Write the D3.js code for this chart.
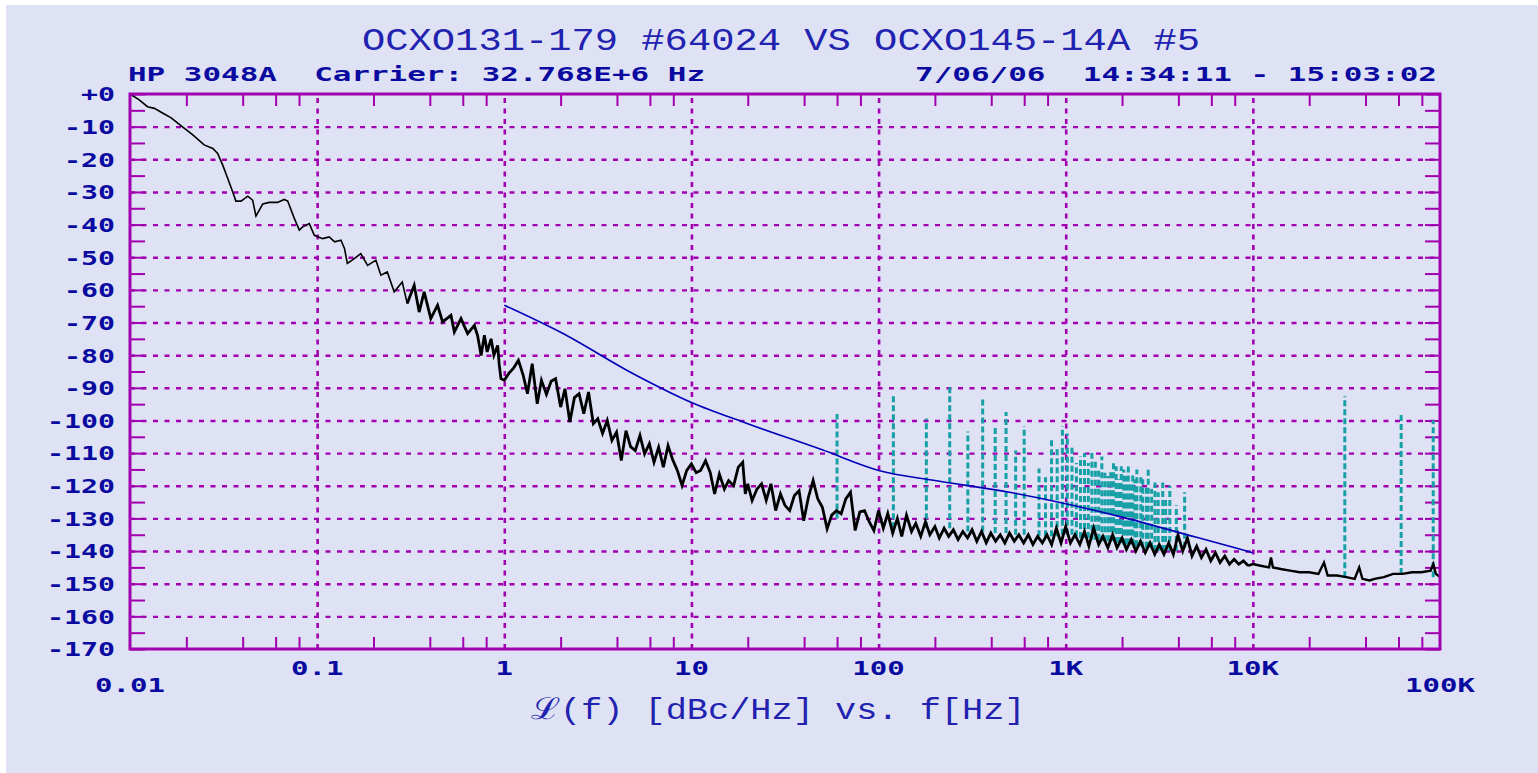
<!DOCTYPE html>
<html>
<head>
<meta charset="utf-8">
<script src="https://cdn.jsdelivr.net/npm/d3@7"></script>
<style>
  html, body { margin: 0; padding: 0; background: #ffffff; }
  svg { display: block; }
</style>
</head>
<body>
<div id="chart"></div>
<script>
// Phase noise plot, HP 3048A style

// Chart text
const titleText = 'OCXO131-179 #64024 VS OCXO145-14A #5';
const infoLeft = 'HP 3048A  Carrier: 32.768E+6 Hz';
const infoRight = '7/06/06  14:34:11 - 15:03:02';
const axisTitle = 'ℒ(f) [dBc/Hz] vs. f[Hz]';

// Axes
const decadeTicks = [0.01, 0.1, 1, 10, 100, 1000, 10000, 100000];
const decadeLabels = ['0.01', '0.1', '1', '10', '100', '1K', '10K', '100K'];
const levelTicks = d3.range(0, -171, -5);

// Measured trace (frequency Hz, dBc/Hz)
const blackTrace = [
  [0.01, 0], [0.0112, -1.8], [0.0124, -3.9], [0.0135, -4.4], [0.0150, -5.9], [0.0166, -7.3], [0.0187, -9.7],
  [0.0215, -12.4], [0.0249, -15.6], [0.0277, -16.7], [0.0294, -18.2], [0.0313, -21.8], [0.0333, -25.9],
  [0.0354, -30.0], [0.0368, -32.8], [0.0392, -32.8], [0.0426, -31.3], [0.0452, -32.5], [0.0471, -37.4],
  [0.0512, -33.7], [0.0555, -33.2], [0.0614, -33.2], [0.0667, -32.3], [0.0696, -32.8], [0.0755, -38.1],
  [0.0803, -41.7], [0.0837, -40.7], [0.0908, -39.7], [0.0966, -43.3], [0.107, -44.3], [0.116, -43.8],
  [0.124, -45.3], [0.134, -44.8], [0.140, -47.3], [0.145, -51.9], [0.158, -50.4], [0.171, -48.9],
  [0.186, -52.5], [0.206, -50.9], [0.219, -55.5], [0.237, -54.5], [0.258, -60.6], [0.285, -57.6],
  [0.303, -64.2], [0.330, -58.6], [0.351, -66.8], [0.373, -60.6], [0.405, -68.8], [0.440, -64.7],
  [0.468, -69.8], [0.519, -67.8], [0.541, -72.9], [0.587, -68.8], [0.637, -73.4], [0.692, -70.9],
  [0.720, -74.0], [0.752, -80.1], [0.783, -73.9], [0.810, -79.0], [0.850, -75.0], [0.880, -80.0],
  [0.922, -77.0], [0.940, -83.0], [0.960, -87.2],
  [1.00, -87.7], [1.06, -85.5], [1.12, -84.0], [1.19, -81.6], [1.26, -86.0], [1.33, -91.8], [1.41, -82.6],
  [1.50, -94.9], [1.58, -87.7], [1.68, -92.0], [1.78, -88.0], [1.88, -87.2], [2.00, -95.9], [2.11, -90.3],
  [2.24, -100.5], [2.37, -93.0], [2.51, -91.8], [2.66, -97.9], [2.82, -91.3], [2.99, -101.0], [3.16, -99.5],
  [3.35, -104.0], [3.55, -100.0], [3.76, -106.1], [3.98, -103.6], [4.22, -112.3], [4.47, -103.1],
  [4.73, -108.0], [5.01, -109.2], [5.31, -104.6], [5.62, -110.2], [5.96, -107.1], [6.31, -112.8],
  [6.68, -108.2], [7.08, -114.3], [7.50, -107.7], [7.94, -112.0], [8.41, -115.3], [8.91, -119.9], [9.44, -115.3],
  [10.0, -113.3], [10.6, -116.0], [11.2, -115.3], [11.9, -112.3], [12.6, -115.9], [13.3, -122.5], [14.1, -116.4],
  [15.0, -121.0], [15.8, -118.4], [16.8, -120.0], [17.8, -114.3], [18.8, -112.8], [19.4, -122.5], [20.0, -119.4],
  [21.1, -124.5], [22.4, -121.0], [23.7, -119.4], [25.1, -124.5], [26.6, -119.4], [28.2, -127.6], [29.9, -122.5],
  [31.6, -126.0], [33.5, -127.6], [35.5, -123.0], [37.6, -121.5], [39.8, -130.7], [42.2, -123.5], [44.7, -118.4],
  [47.3, -124.0], [50.1, -126.6], [53.1, -133.2], [56.2, -129.0], [59.6, -127.6], [63.1, -128.6], [66.8, -124.0],
  [70.8, -122.0], [75.0, -133.7], [79.4, -128.0], [84.1, -127.6], [89.1, -131.0], [94.4, -133.7],
  [100, -127.6], [106, -133.0], [112, -128.5], [119, -134.5], [126, -130.0], [133, -135.5], [141, -129.0],
  [150, -134.0], [158, -131.5], [168, -135.5], [178, -131.0], [188, -135.0], [200, -132.5], [211, -136.0],
  [224, -133.0], [237, -135.5], [251, -133.5], [266, -136.5], [282, -134.0], [299, -136.0], [316, -133.5],
  [335, -137.0], [355, -134.0], [376, -137.5], [398, -134.5], [422, -137.0], [447, -135.0], [473, -137.5],
  [501, -134.5], [531, -137.0], [562, -135.0], [596, -137.5], [631, -135.0], [668, -138.0], [708, -135.5],
  [750, -137.5], [794, -135.0], [841, -138.0], [891, -133.0], [944, -137.5],
  [1000, -132.5], [1060, -137.5], [1120, -135.0], [1190, -138.0], [1260, -134.0], [1330, -138.5], [1410, -133.0],
  [1500, -138.0], [1580, -135.5], [1680, -139.0], [1780, -135.0], [1880, -139.0], [2000, -136.0], [2110, -139.5],
  [2240, -136.5], [2370, -140.0], [2510, -137.0], [2660, -140.5], [2820, -137.5], [2990, -141.0], [3160, -138.0],
  [3350, -141.0], [3550, -137.5], [3760, -141.0], [3980, -135.0], [4220, -140.0], [4470, -136.0], [4730, -141.5],
  [5010, -138.5], [5310, -142.0], [5620, -139.5], [5960, -143.0], [6310, -140.5], [6680, -143.5], [7080, -141.5],
  [7500, -144.0], [7940, -142.5], [8410, -144.0], [8910, -143.0], [9440, -144.5],
  [10000, -144.0], [11000, -144.5], [12200, -145.0], [12500, -142.0], [12800, -145.0], [14100, -145.5],
  [15800, -146.0], [17800, -146.5], [20000, -146.5], [22400, -147.0], [24000, -143.5], [25100, -147.5],
  [28200, -147.5], [31600, -148.0], [35000, -148.5], [37000, -145.0], [38500, -148.5], [42000, -149.0],
  [44700, -148.5], [50100, -148.0], [56200, -147.0], [63100, -147.0], [70800, -146.5], [79400, -146.5],
  [89100, -146.0], [92000, -144.0], [95000, -147.0], [100000, -148.0]
];

// Spec / reference line
const blueHz = [1, 2, 5, 10, 20, 50, 100, 200, 500, 1000, 2000, 5000, 10000];
const blueDb = [-64.7, -73.0, -86.0, -94.5, -101.0, -109.0, -115.3, -118.4, -122.0, -125.5, -129.6, -135.8, -140.5];

// Spurs
const spurHz = [60, 120, 180, 240, 300, 360, 420, 480, 540, 600, 720, 780, 840, 900, 960, 1020, 1080, 1140,
  1200, 1260, 1320, 1380, 1440, 1500, 1560, 1620, 1680, 1740, 1800, 1860, 1920, 1980, 2040, 2100, 2160, 2220,
  2280, 2340, 2400, 2520, 2580, 2700, 2760, 2880, 3000, 3120, 3300, 3420, 3600, 3900, 4320, 31000, 62000, 92000];
const spurTop = [-98.0, -92.3, -99.4, -89.6, -103.4, -93.3, -101.8, -97.4, -109.2, -101.8, -114.7, -117.4, -105.9,
  -108.0, -101.8, -104.0, -108.0, -113.0, -111.0, -110.0, -113.0, -110.0, -112.0, -115.0, -111.0, -116.0, -117.0,
  -115.0, -113.0, -114.0, -118.0, -114.0, -115.0, -117.0, -114.0, -119.0, -116.0, -118.0, -115.0, -117.0, -118.0,
  -120.0, -115.0, -121.0, -119.0, -122.0, -119.0, -124.0, -120.0, -126.0, -122.0, -92.6, -97.4, -100.0];
const spurBase = [-130.0, -133.0, -133.0, -133.0, -134.0, -134.0, -134.5, -134.5, -135.0, -135.0, -135.5, -135.5,
  -135.5, -135.5, -135.0, -135.0, -135.0, -135.5, -136.0, -136.0, -136.0, -136.5, -136.5, -136.5, -137.0, -137.0,
  -137.0, -137.0, -137.0, -137.5, -137.5, -137.5, -138.0, -138.0, -138.0, -138.0, -138.0, -138.5, -138.5, -138.5,
  -139.0, -139.0, -139.0, -139.0, -140.0, -140.0, -140.0, -140.0, -140.0, -140.0, -139.0, -148.0, -147.0, -148.0];

// Style
const COLORS = {
  page: '#ffffff',
  panel: '#dfe2f4',
  frame: '#a000b0',
  text: '#0a0aa0',
  title: '#2222b0',
  trace: '#000000',
  blue: '#0000b8',
  spur: '#17a0a6'
};
const W = 1538, H = 773;
const PLOT = { left: 130, right: 1440, top: 94, bottom: 649 };

const svg = d3.select('#chart').append('svg')
  .attr('width', W)
  .attr('height', H);

svg.append('rect').attr('width', W).attr('height', H).attr('fill', COLORS.page);
svg.append('rect').attr('x', 6).attr('y', 5).attr('width', W - 6).attr('height', H - 5).attr('fill', COLORS.panel);

const x = d3.scaleLog().domain([0.01, 100000]).range([PLOT.left, PLOT.right]);
const y = d3.scaleLinear().domain([0, -170]).range([PLOT.top, PLOT.bottom]);
const plotW = PLOT.right - PLOT.left;
const plotH = PLOT.bottom - PLOT.top;

// Gridlines
const gridG = svg.append('g');
gridG.append('g')
  .attr('transform', `translate(0,${PLOT.bottom})`)
  .call(d3.axisBottom(x).tickValues(decadeTicks.slice(1, -1)).tickSize(-plotH).tickFormat(''))
  .call(g => g.select('.domain').remove())
  .call(g => g.selectAll('line').attr('stroke', COLORS.frame).attr('stroke-width', 2.6).attr('stroke-dasharray', '5,5.5'));
gridG.append('g')
  .attr('transform', `translate(${PLOT.left},0)`)
  .call(d3.axisLeft(y).tickValues(d3.range(-10, -161, -10)).tickSize(-plotW).tickFormat(''))
  .call(g => g.select('.domain').remove())
  .call(g => g.selectAll('line').attr('stroke', COLORS.frame).attr('stroke-width', 2.4).attr('stroke-dasharray', '5,6.5'));

// Minor log ticks (2,4,6,8 per decade)
const minorTicks = [];
decadeTicks.slice(0, -1).forEach(d => [2, 4, 6, 8].forEach(m => minorTicks.push(d * m)));

function styleTicks(g) {
  g.select('.domain').remove();
  g.selectAll('line').attr('stroke', COLORS.frame).attr('stroke-width', 2);
}

svg.append('g').attr('transform', `translate(0,${PLOT.top})`)
  .call(d3.axisTop(x).tickValues(minorTicks).tickSize(-12).tickFormat(''))
  .call(styleTicks);
svg.append('g').attr('transform', `translate(0,${PLOT.bottom})`)
  .call(d3.axisBottom(x).tickValues(minorTicks).tickSize(-12).tickFormat(''))
  .call(styleTicks);
svg.append('g').attr('transform', `translate(${PLOT.right},0)`)
  .call(d3.axisRight(y).tickValues(levelTicks).tickSize(-15).tickFormat(''))
  .call(styleTicks);

// Left axis with labels
const yAxis = svg.append('g').attr('transform', `translate(${PLOT.left},0)`)
  .call(d3.axisLeft(y).tickValues(levelTicks).tickSize(-15).tickPadding(15)
    .tickFormat(d => d % 10 === 0 ? (d === 0 ? '+0' : String(d)) : ''))
  .call(styleTicks);
yAxis.selectAll('text')
  .attr('fill', COLORS.text)
  .attr('font-family', 'DejaVu Sans Mono, monospace')
  .attr('font-weight', 'bold')
  .attr('font-size', 19)
  .attr('dy', '0.36em')
  .each(function () {
    const t = d3.select(this).text();
    if (t) d3.select(this).attr('textLength', t.length * 17).attr('lengthAdjust', 'spacingAndGlyphs');
  });
// push labels so their right edge sits at x=115
yAxis.selectAll('.tick text').attr('x', 115 - PLOT.left);

// Spurs
svg.append('g').selectAll('line')
  .data(spurHz)
  .join('line')
  .attr('x1', d => x(d))
  .attr('x2', d => x(d))
  .attr('y1', (d, i) => y(spurBase[i]))
  .attr('y2', (d, i) => y(spurTop[i]))
  .attr('stroke', COLORS.spur)
  .attr('stroke-width', 3)
  .attr('stroke-dasharray', '6,3');

// Black measured trace: thin where the sweep is sparse, heavier where it is dense
const traceLine = d3.line().x(d => x(d[0])).y(d => y(d[1]));
svg.append('path')
  .datum(blackTrace.filter(d => d[0] <= 0.303))
  .attr('fill', 'none')
  .attr('stroke', COLORS.trace)
  .attr('stroke-width', 1.6)
  .attr('d', traceLine);
svg.append('path')
  .datum(blackTrace.filter(d => d[0] >= 0.303 && d[0] < 10000))
  .attr('fill', 'none')
  .attr('stroke', COLORS.trace)
  .attr('stroke-width', 2.8)
  .attr('d', traceLine);
svg.append('path')
  .datum(blackTrace.filter(d => d[0] >= 9440))
  .attr('fill', 'none')
  .attr('stroke', COLORS.trace)
  .attr('stroke-width', 2.4)
  .attr('d', traceLine);

// Blue reference line
svg.append('path')
  .datum(blueHz.map((f, i) => [f, blueDb[i]]))
  .attr('fill', 'none')
  .attr('stroke', COLORS.blue)
  .attr('stroke-width', 1.6)
  .attr('d', d3.line().x(d => x(d[0])).y(d => y(d[1])).curve(d3.curveMonotoneX));

// Frame
svg.append('rect')
  .attr('x', PLOT.left).attr('y', PLOT.top)
  .attr('width', plotW).attr('height', plotH)
  .attr('fill', 'none')
  .attr('stroke', COLORS.frame)
  .attr('stroke-width', 3);

// Decade labels
svg.append('g').selectAll('text')
  .data(decadeTicks)
  .join('text')
  .attr('x', d => x(d))
  .attr('y', (d, i) => (i === 0 || i === decadeTicks.length - 1) ? 692 : 675)
  .attr('text-anchor', 'middle')
  .attr('fill', COLORS.text)
  .attr('font-family', 'DejaVu Sans Mono, monospace')
  .attr('font-weight', 'bold')
  .attr('font-size', 19)
  .attr('textLength', (d, i) => decadeLabels[i].length * 17.5)
  .attr('lengthAdjust', 'spacingAndGlyphs')
  .text((d, i) => decadeLabels[i]);

// Titles
svg.append('text')
  .attr('x', 781).attr('y', 50)
  .attr('text-anchor', 'middle')
  .attr('fill', COLORS.title)
  .attr('font-family', 'Liberation Mono, monospace')
  .attr('font-size', 31)
  .attr('textLength', 838)
  .attr('lengthAdjust', 'spacingAndGlyphs')
  .text(titleText);

svg.append('text')
  .attr('x', 128).attr('y', 81)
  .attr('fill', COLORS.text)
  .attr('font-family', 'DejaVu Sans Mono, monospace')
  .attr('font-weight', 'bold')
  .attr('font-size', 19)
  .attr('textLength', 577)
  .attr('lengthAdjust', 'spacingAndGlyphs')
  .style('white-space', 'pre')
  .text(infoLeft);

svg.append('text')
  .attr('x', 1437).attr('y', 81)
  .attr('text-anchor', 'end')
  .attr('fill', COLORS.text)
  .attr('font-family', 'DejaVu Sans Mono, monospace')
  .attr('font-weight', 'bold')
  .attr('font-size', 19)
  .attr('textLength', 522)
  .attr('lengthAdjust', 'spacingAndGlyphs')
  .style('white-space', 'pre')
  .text(infoRight);

svg.append('text')
  .attr('x', 778).attr('y', 719)
  .attr('text-anchor', 'middle')
  .attr('fill', COLORS.title)
  .attr('font-family', 'Liberation Mono, monospace')
  .attr('font-size', 30)
  .attr('textLength', 495)
  .attr('lengthAdjust', 'spacingAndGlyphs')
  .style('white-space', 'pre')
  .text(axisTitle);
</script>
</body>
</html>
